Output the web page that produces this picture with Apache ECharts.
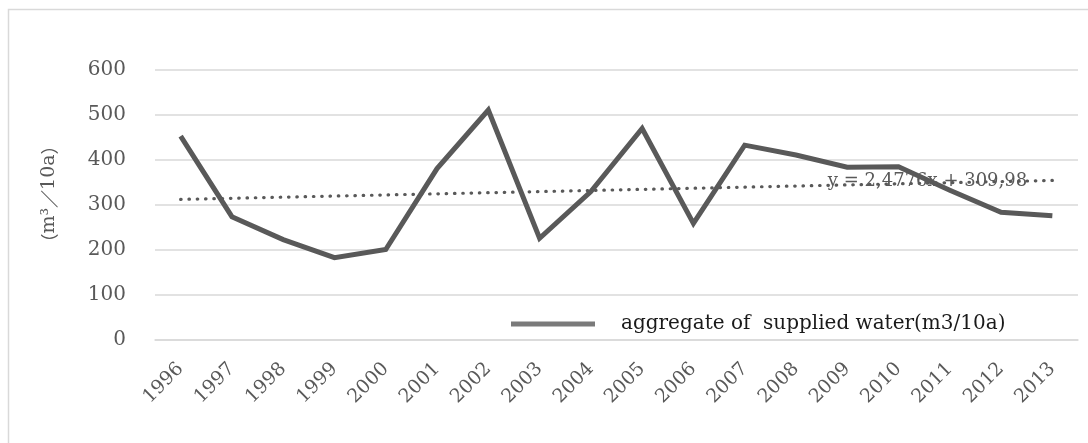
<!DOCTYPE html>
<html>
<head>
<meta charset="utf-8">
<script src="https://cdn.jsdelivr.net/npm/echarts@6/dist/echarts.min.js"></script>
<style>
  html, body { margin: 0; padding: 0; background: #fff; }
  #chart { width: 1088px; height: 443px; }
</style>
</head>
<body>
<div id="chart"></div>
<script>
// Annual aggregate of supplied water, 1996–2013
const years = ['1996','1997','1998','1999','2000','2001','2002','2003','2004',
               '2005','2006','2007','2008','2009','2010','2011','2012','2013'];
const suppliedWater = [453, 274, 223, 183, 201, 381, 511, 226, 330,
                       470, 259, 433, 411, 384, 385, 333, 284, 276];
const yTicks = [0, 100, 200, 300, 400, 500, 600];

// Linear trend as stated by its equation label (x = 1 for the first year)
const trendSlope = 2.4776;
const trendIntercept = 309.98;
const trendLabel = 'y = 2,4776x + 309,98';
const trendLabelIndex = 14;

const seriesName = 'aggregate of  supplied water(m3/10a)';
// Unit title: full-width brackets and slash set in a CJK face
const axisName = '{w|（}{t|m³}{w|／}{t|10a}{w|）}';

const font = 'DejaVu Serif';
const cjk = 'Noto Sans CJK SC';

const trend = years.map((_, i) => {
  const v = trendSlope * (i + 1) + trendIntercept;
  if (i === trendLabelIndex) {
    return {
      value: v,
      label: {
        show: true, formatter: trendLabel, position: 'inside',
        offset: [29, -2], color: '#595959',
        fontFamily: font, fontSize: 18
      }
    };
  }
  return v;
});

const chart = echarts.init(document.getElementById('chart'), null, { renderer: 'canvas' });

chart.setOption({
  animation: false,
  backgroundColor: '#fff',
  graphic: [{
    type: 'rect',
    shape: { x: 8.5, y: 9.5, width: 1090, height: 450 },
    style: { fill: 'none', stroke: '#d9d9d9', lineWidth: 1.5 },
    silent: true, z: -1
  }],
  grid: { left: 155, right: 10, top: 70, bottom: 103, containLabel: false },
  legend: {
    left: 506, top: 309,
    icon: 'rect', itemWidth: 84, itemHeight: 5,
    data: [{ name: seriesName, itemStyle: { color: '#7a7a7a' } }],
    textStyle: {
      color: '#1a1a1a', fontFamily: font, fontSize: 20,
      padding: [0, 0, 0, 21]
    }
  },
  xAxis: {
    type: 'category',
    data: years,
    boundaryGap: true,
    axisLine: { show: true, lineStyle: { color: '#d9d9d9', width: 1.5 } },
    axisTick: { show: false },
    axisLabel: {
      rotate: 45, interval: 0, margin: 26,
      color: '#595959', fontFamily: font, fontSize: 19
    }
  },
  yAxis: {
    type: 'value',
    min: yTicks[0], max: yTicks[yTicks.length - 1], interval: 100,
    name: axisName,
    nameLocation: 'middle', nameGap: 96, nameRotate: 90,
    nameTextStyle: {
      color: '#595959', fontFamily: font, fontSize: 19,
      padding: [0, 0, 0, 22],
      rich: {
        w: { color: '#595959', fontFamily: cjk, fontSize: 18 },
        t: { color: '#595959', fontFamily: font, fontSize: 19 }
      }
    },
    axisLine: { show: false },
    axisTick: { show: false },
    axisLabel: { margin: 29, color: '#595959', fontFamily: font, fontSize: 20 },
    splitLine: { lineStyle: { color: '#d9d9d9', width: 1.5 } }
  },
  series: [
    {
      name: seriesName,
      type: 'line',
      data: suppliedWater,
      showSymbol: false,
      lineStyle: { color: '#595959', width: 5, join: 'miter' },
      itemStyle: { color: '#595959' },
      z: 3
    },
    {
      name: 'trend',
      type: 'line',
      data: trend,
      showSymbol: true,
      symbol: 'circle',
      symbolSize: 0,
      itemStyle: { color: '#595959' },
      lineStyle: { color: '#595959', width: 3.2, type: [0.5, 7.8], cap: 'round' },
      z: 2
    }
  ]
});
</script>
</body>
</html>
